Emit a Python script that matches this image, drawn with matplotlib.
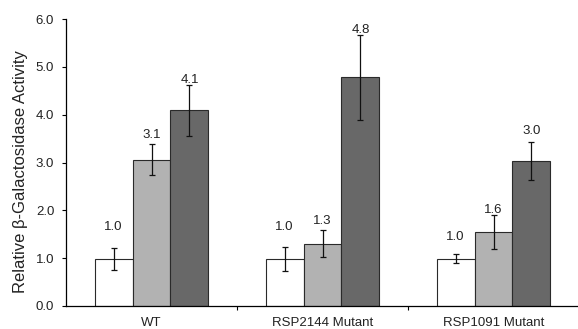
import matplotlib
matplotlib.use("Agg")
import matplotlib.pyplot as plt
import numpy as np

plt.rcParams['font.family'] = ['Liberation Sans', 'DejaVu Sans']

categories = ["WT", "RSP2144 Mutant", "RSP1091 Mutant"]
s1 = [0.98, 0.99, 0.99]
s2 = [3.06, 1.30, 1.55]
s3 = [4.09, 4.78, 3.03]
e1 = [0.23, 0.25, 0.10]
e2 = [0.33, 0.28, 0.35]
e3 = [0.53, 0.89, 0.40]
labels1 = ["1.0", "1.0", "1.0"]
labels2 = ["3.1", "1.3", "1.6"]
labels3 = ["4.1", "4.8", "3.0"]
# label heights (data units) as placed in the original
label_y1 = [1.59, 1.59, 1.38]
label_y2 = [3.51, 1.71, 1.94]
label_y3 = [4.66, 5.71, 3.60]

fig = plt.figure(figsize=(5.78, 3.29), dpi=100)
ax = fig.add_axes([66/578, 1-306/329, 513/578, (306-19)/329])

x = np.arange(len(categories))
w = 0.222
colors = ["#ffffff", "#b2b2b2", "#686868"]
series = [(s1, e1, labels1, label_y1), (s2, e2, labels2, label_y2), (s3, e3, labels3, label_y3)]
for i, (vals, errs, labs, ly) in enumerate(series):
    pos = x + (i - 1) * w
    ax.bar(pos, vals, width=w, color=colors[i], edgecolor="#2a2a2a", linewidth=0.8, zorder=2)
    ax.errorbar(pos, vals, yerr=errs, fmt="none", ecolor="#111111", elinewidth=0.9,
                capsize=2.5, capthick=0.9, zorder=3)
    for p, l, yy in zip(pos, labs, ly):
        ax.text(p, yy, l, ha="center", va="baseline", fontsize=9.5, color="#222222")

ax.set_xlim(-0.5, 2.5)
ax.set_ylim(0, 6)
yt = np.arange(0, 6.01, 1.0)
ax.set_yticks(yt)
ax.set_yticklabels([f"{t:.1f}" for t in yt], fontsize=9.5, color="#222222")
ax.set_xticks(x)
ax.set_xticklabels(categories, fontsize=9.5, color="#222222")
ax.tick_params(axis="x", length=0, pad=8)
ax.set_xticks([0.5, 1.5], minor=True)
ax.tick_params(axis="x", which="minor", length=3, direction="out", width=0.8)
ax.tick_params(axis="y", length=3, direction="out", width=0.8, pad=5.5)
ax.spines["top"].set_visible(False)
ax.spines["right"].set_visible(False)
ax.spines["left"].set_linewidth(0.9)
ax.spines["bottom"].set_linewidth(0.9)
ax.set_ylabel("Relative β-Galactosidase Activity", fontsize=12, color="#222222")
ax.yaxis.set_label_coords(-0.074, 0.47)

fig.savefig("out.png", dpi=100)
